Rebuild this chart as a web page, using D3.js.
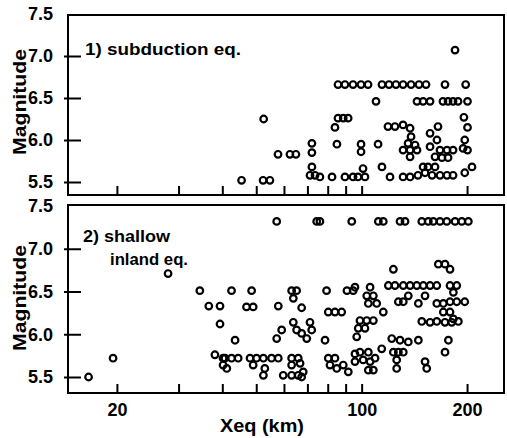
<!DOCTYPE html>
<html>
<head>
<meta charset="utf-8">
<script src="https://cdn.jsdelivr.net/npm/d3@7"></script>
<style>
  html, body { margin: 0; padding: 0; background: #fff; }
  svg { display: block; }
  text { font-family: "Liberation Sans", Arial, sans-serif; font-weight: bold; fill: #000; }
</style>
</head>
<body>
<svg id="chart" width="507" height="438"></svg>
<script>
// ---- Data (Xeq in km, magnitude) ----
const subX = [85.6, 89.6, 94.5, 99.6, 104.3, 114.3, 119.7, 125.3, 131.3, 138.4, 145.8, 152.7, 173, 198.2,
  109.9, 143.9, 149.8, 156.8, 170.7, 176.5, 182.4, 188.5, 200.6,
  184.8,
  52.5, 83.9, 85.6, 88.6, 91.5, 118.9, 124.5, 131.3, 137.5, 165.2, 156.8, 195.9, 200.6,
  85.0, 99.6, 99.6, 111.4, 138.4, 135.7, 142.1, 131.3, 137.5, 143.9, 137.5, 164.1, 167.4, 175.3, 182.4, 162.0, 169.6, 176.5, 197.0, 194.8, 200.6, 156.8,
  57.7, 62.4, 64.9, 72.1, 72.1,
  45.4, 52.3, 54.7, 72.1, 71.2, 73.6, 76.0, 82.3, 89.6, 94.5, 97.6, 100.9, 102.2, 114.3, 120.5, 131.3, 137.5, 144.8, 149.8, 154.7, 162.0, 151.7, 158.9, 167.4, 175.3, 182.4, 197.0, 206.6];
const subM = [6.66, 6.66, 6.66, 6.66, 6.66, 6.66, 6.66, 6.66, 6.66, 6.66, 6.66, 6.66, 6.66, 6.66,
  6.46, 6.46, 6.46, 6.46, 6.46, 6.46, 6.46, 6.46, 6.46,
  7.07,
  6.25, 6.15, 6.26, 6.26, 6.26, 6.16, 6.16, 6.18, 6.14, 6.16, 6.08, 6.27, 6.15,
  5.95, 5.95, 5.86, 5.95, 6.04, 5.96, 5.94, 5.88, 5.88, 5.88, 5.80, 6.00, 5.88, 5.88, 5.88, 5.80, 5.79, 5.79, 6.00, 5.90, 5.88, 5.92,
  5.83, 5.83, 5.83, 5.96, 5.85,
  5.52, 5.52, 5.52, 5.68, 5.58, 5.58, 5.56, 5.56, 5.56, 5.56, 5.56, 5.66, 5.56, 5.68, 5.56, 5.56, 5.56, 5.58, 5.68, 5.68, 5.68, 5.61, 5.58, 5.58, 5.58, 5.58, 5.61, 5.68];

const shX = [57.2, 74.4, 76.0, 93.7, 111.6, 115.3, 128.7, 133.0, 148.5, 155.0, 160.2, 167.4, 175.0, 184.8, 193.2, 201.7,
  28.0, 123.2, 165.6, 173.0, 178.8,
  34.5, 42.5, 48.5, 63.1, 65.2, 63.8, 79.4, 90.8, 94.6, 95.7, 105.7, 103.4, 108.0, 104.5, 110.4, 115.3,
  119.2, 124.5, 131.5, 137.5, 143.7, 150.0, 156.8, 163.9, 178.8, 186.9, 182.8,
  127.3, 131.5, 135.9, 145.2, 151.7, 163.9, 171.1, 178.8, 186.9, 197.0, 171.1, 178.8, 182.8,
  148.5, 156.8, 163.9, 173.0, 180.8, 188.9,
  176.9, 173.0,
  121.9, 128.7, 135.9, 145.2,
  123.2, 127.3, 131.5, 125.9, 125.9, 151.7, 153.4, 114.1,
  98.9, 103.4, 108.0, 97.8, 102.2, 96.8,
  98.9, 104.5, 109.2, 101.0, 105.7, 104.5, 108.0,
  36.6, 39.4, 39.4, 46.9, 49.0, 57.8, 67.4, 80.3, 83.9, 87.7,
  63.8, 59.1, 57.2, 65.2, 67.4, 71.2, 72.0, 69.7, 78.6, 43.5, 19.5, 16.6,
  38.1, 40.2, 40.7, 42.5, 44.4, 48.0, 50.1, 52.4, 55.3, 57.8, 63.1, 65.9, 80.3, 83.9, 95.7,
  40.2, 41.2, 49.0, 52.9, 63.1, 66.7, 68.1, 67.4,
  52.4, 59.7, 63.1, 65.9,
  81.2, 84.9, 88.6, 91.6, 95.7];
const shM = [7.32, 7.32, 7.32, 7.32, 7.32, 7.32, 7.32, 7.32, 7.32, 7.32, 7.32, 7.32, 7.32, 7.32, 7.32, 7.32,
  6.71, 6.76, 6.82, 6.82, 6.76,
  6.51, 6.51, 6.51, 6.51, 6.51, 6.42, 6.51, 6.51, 6.51, 6.55, 6.55, 6.45, 6.45, 6.36, 6.36, 6.26,
  6.57, 6.57, 6.57, 6.57, 6.57, 6.57, 6.57, 6.57, 6.57, 6.57, 6.49,
  6.38, 6.38, 6.45, 6.36, 6.45, 6.36, 6.36, 6.38, 6.38, 6.38, 6.26, 6.26, 6.18,
  6.15, 6.14, 6.15, 6.14, 6.14, 6.15,
  5.93, 5.79,
  5.95, 5.93, 5.91, 5.93,
  5.79, 5.79, 5.79, 5.70, 5.60, 5.68, 5.60, 5.83,
  6.16, 6.16, 6.16, 6.07, 6.07, 5.97,
  5.79, 5.79, 5.72, 5.70, 5.68, 5.58, 5.58,
  6.33, 6.33, 6.12, 6.32, 6.32, 6.33, 6.31, 6.26, 6.26, 6.26,
  6.14, 6.05, 5.95, 6.05, 6.01, 6.14, 6.05, 5.95, 5.93, 5.93, 5.72, 5.50,
  5.76, 5.72, 5.72, 5.72, 5.72, 5.72, 5.72, 5.72, 5.72, 5.72, 5.72, 5.72, 5.72, 5.72, 5.77,
  5.64, 5.60, 5.64, 5.60, 5.64, 5.66, 5.56, 5.50,
  5.52, 5.52, 5.52, 5.52,
  5.64, 5.60, 5.64, 5.56, 5.68];

const xTicks = [20, 30, 40, 50, 60, 70, 80, 90, 100, 200];
const xTickLabels = ["20", "100", "200"];
const yTicks = [5.5, 6.0, 6.5, 7.0, 7.5];

// ---- Drawing ----
const svg = d3.select("#chart");
const left = 68, right = 504;
const x = d3.scaleLog().domain([14.5, 255]).range([left, right]);

const panels = [
  { X: subX, M: subM, top: 15, bottom: 195, y55: 182, y75: 14,
    label: ["1) subduction eq."], labelPos: [[85, 55]], labelLen: [156], magY: 102, showXLabels: false },
  { X: shX, M: shM, top: 205, bottom: 393, y55: 377, y75: 206,
    label: ["2) shallow", "inland eq."], labelPos: [[83, 242], [110, 265]], labelLen: [87, 78], magY: 298, showXLabels: true }
];

panels.forEach(p => {
  const y = d3.scaleLinear().domain([5.5, 7.5]).range([p.y55, p.y75]);
  const g = svg.append("g");

  // frame
  g.append("rect").attr("x", left).attr("y", p.top)
    .attr("width", right - left).attr("height", p.bottom - p.top)
    .attr("fill", "none").attr("stroke", "#000").attr("stroke-width", 2);

  // x axis ticks (inward)
  const xa = d3.axisBottom(x).tickValues(xTicks).tickSize(-9)
    .tickFormat(d => (p.showXLabels && xTickLabels.includes(String(d))) ? String(d) : "");
  const gx = g.append("g").attr("transform", `translate(0,${p.bottom})`).call(xa);
  gx.select(".domain").remove();
  gx.selectAll("line").attr("stroke", "#000").attr("stroke-width", 2);
  gx.selectAll("text").attr("font-size", 18).attr("dy", "0").attr("y", 23)
    .style("font-family", "'Liberation Sans', Arial, sans-serif").style("font-weight", "bold");

  // y axis
  const ya = d3.axisLeft(y).tickValues(yTicks).tickSize(0).tickPadding(15)
    .tickFormat(d3.format(".1f"));
  const gy = g.append("g").attr("transform", `translate(${left},0)`).call(ya);
  gy.select(".domain").remove();
  gy.selectAll(".tick").filter(d => d < 7.5).append("line")
    .attr("x1", -4).attr("x2", 13).attr("stroke", "#000").attr("stroke-width", 2);
  gy.selectAll("text").attr("font-size", 18)
    .style("font-family", "'Liberation Sans', Arial, sans-serif").style("font-weight", "bold");

  // Magnitude label
  g.append("text").attr("transform", `translate(26,${p.magY}) rotate(-90)`)
    .attr("text-anchor", "middle").attr("font-size", 18)
    .attr("textLength", 106).attr("lengthAdjust", "spacingAndGlyphs").text("Magnitude");

  // panel label
  p.label.forEach((t, i) => {
    g.append("text").attr("x", p.labelPos[i][0]).attr("y", p.labelPos[i][1])
      .attr("font-size", 16).attr("textLength", p.labelLen[i])
      .attr("lengthAdjust", "spacingAndGlyphs").text(t);
  });

  // points
  const pts = p.X.map((v, i) => ({ x: v, m: p.M[i] }));
  g.append("g").selectAll("circle").data(pts).join("circle")
    .attr("cx", d => x(d.x)).attr("cy", d => y(d.m)).attr("r", 3.3)
    .attr("fill", "none").attr("stroke", "#000").attr("stroke-width", 2.2);
});

// x axis title
svg.append("text").attr("x", 262).attr("y", 432).attr("text-anchor", "middle")
  .attr("font-size", 19).attr("textLength", 84).attr("lengthAdjust", "spacingAndGlyphs").text("Xeq (km)");
</script>
</body>
</html>
